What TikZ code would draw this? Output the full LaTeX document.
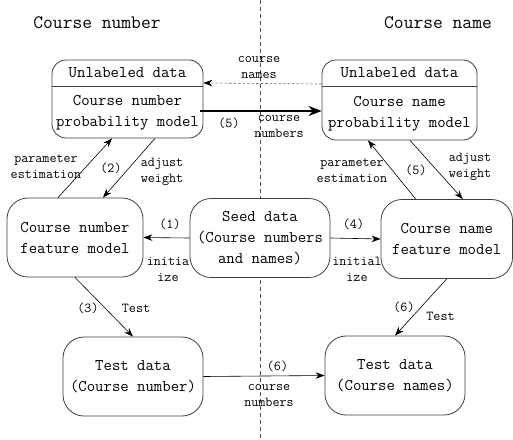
\documentclass[tikz,border=0pt]{standalone}
\usepackage{fontspec}
\usetikzlibrary{arrows.meta,positioning}

\newcommand\headtxt{\ttfamily\fontsize{19}{23}\selectfont}
\newcommand\boxtxt{\ttfamily\fontsize{16.3}{21}\selectfont}
\newcommand\lbltxt{\ttfamily\fontsize{13.7}{16}\selectfont}

\begin{document}
\begin{tikzpicture}[x=1pt,y=-1pt,->,>={Stealth[length=9pt,width=6.5pt]},line width=0.6pt,
    box/.style={draw=black!75,line width=0.8pt,fill=white,rounded corners=21pt,inner sep=0pt,minimum height=79pt},
    topbox/.style={box,rounded corners=14pt},
    txt/.style={font=\boxtxt,align=center,inner sep=0pt},
    lbl/.style={font=\lbltxt,align=center,inner sep=0pt},
    head/.style={font=\headtxt,inner sep=0pt}]

\fill[white] (0,0) rectangle (513,439);
\useasboundingbox (0,0) rectangle (513,439);

% split between the two sides
\draw[-,black!70,dash pattern=on 4pt off 3pt] (260.5,0) -- (260.5,439);

\node[head] (numhead)  at (97,23)  {Course number};
\node[head] (namehead) at (438,23) {Course name};

% probability models with the unlabeled data on top
\node[topbox,minimum width=151pt,minimum height=78pt] (numbox)  at (127.5,99)  {};
\node[topbox,minimum width=155pt,minimum height=80pt] (namebox) at (399.5,100) {};
\draw[-,black!75,line width=0.8pt] ([yshift=-27pt]numbox.north west) -- ([yshift=-27pt]numbox.north east);
\draw[-,black!75,line width=0.8pt] ([yshift=-27pt]namebox.north west) -- ([yshift=-27pt]namebox.north east);
\node[txt] (numunl)   at ([yshift=-13.5pt]numbox.north)  {Unlabeled data};
\node[txt] (nameunl)  at ([yshift=-13.5pt]namebox.north) {Unlabeled data};
\node[txt] (numprob)  at ([yshift=25.5pt]numbox.south)   {Course number\\probability model};
\node[txt] (nameprob) at ([yshift=26.5pt]namebox.south)  {Course name\\probability model};

\node[box,minimum width=136pt]   (numfeat)  at (75,237.5)   {};
\node[txt] at (numfeat) {Course number\\feature model};
\node[box,minimum width=140pt]   (seed)     at (260,238)    {};
\node[txt] at (seed) {Seed data\\(Course numbers\\and names)};
\node[box,minimum width=131.5pt] (namefeat) at (446.75,239) {};
\node[txt] at (namefeat) {Course name\\feature model};
\node[box,minimum width=140pt]   (numtest)  at (133,376.5)  {};
\node[txt] at (numtest) {Test data\\(Course number)};
\node[box,minimum width=140pt]   (nametest) at (395,375.5)  {};
\node[txt] at (nametest) {Test data\\(Course names)};

% exchange between the two sides
\draw[black!60,dash pattern=on 2.5pt off 2pt,-{Stealth[length=9pt,width=6.5pt,color=black]}]
    ([yshift=16pt]namebox.west) -- ([yshift=16pt]numbox.east);
\draw[line width=2.4pt,-{Stealth[length=13pt,width=10pt]}]
    ([xshift=-3pt,yshift=-12pt]numbox.east) -- ([yshift=-11pt]namebox.west);
\draw (numtest.east) -- (nametest.west);

% training loops
\draw ([xshift=-17pt]numfeat.north) -- ([xshift=-15.5pt]numbox.south);
\draw ([xshift=27.5pt]numbox.south) -- ([xshift=28pt]numfeat.north);
\draw ([xshift=-31pt]namefeat.north) -- ([xshift=-31.5pt]namebox.south);
\draw ([xshift=10.5pt]namebox.south) -- ([xshift=16pt]namefeat.north);
\draw (seed.west) -- (numfeat.east);
\draw (seed.east) -- (namefeat.west);
\draw (numfeat.south) -- (numtest.north);
\draw (namefeat.south) -- (nametest.north);

\node[lbl] (lnames)   at (259,68)    {course\\names};
\node[lbl] (lfive)    at (229,123)   {(5)};
\node[lbl] (lnums)    at (279,127)   {course\\numbers};
\node[lbl] (lparl)    at (46,167)    {parameter\\estimation};
\node[lbl] (ltwo)     at (111,168)   {(2)};
\node[lbl] (ladjl)    at (162,172)   {adjust\\weight};
\node[lbl] (lparr)    at (352,171)   {parameter\\estimation};
\node[lbl] (lfiver)   at (416,170)   {(5)};
\node[lbl] (ladjr)    at (470,167)   {adjust\\weight};
\node[lbl] (lone)     at (170,224)   {(1)};
\node[lbl] (linitl)   at (168,269.5) {initia\\ize};
\node[lbl] (lfour)    at (353.5,224) {(4)};
\node[lbl] (linitr)   at (357,269.5) {initial\\ize};
\node[lbl] (lthree)   at (88,308)    {(3)};
\node[lbl] (ltestl)   at (136,308)   {Test};
\node[lbl] (lsix)     at (404,307)   {(6)};
\node[lbl] (ltestr)   at (440.5,316) {Test};
\node[lbl] (lsixb)    at (277.5,366) {(6)};
\node[lbl] (lnumsb)   at (269,396)   {course\\numbers};

\end{tikzpicture}
\end{document}
